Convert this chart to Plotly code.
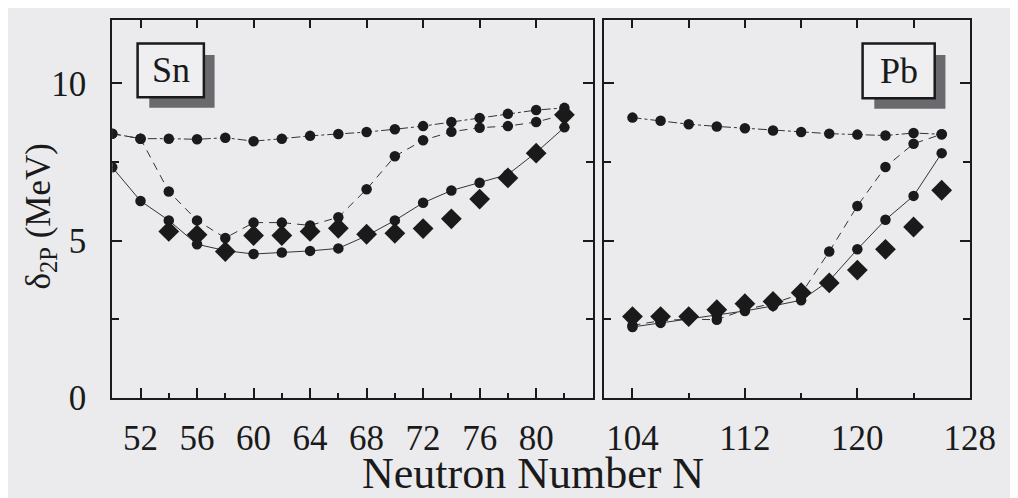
import plotly.graph_objects as go

# ---------------- data ----------------
N_sn = [50, 52, 54, 56, 58, 60, 62, 64, 66, 68, 70, 72, 74, 76, 78, 80, 82]
sn_top = [8.40, 8.24, 8.24, 8.22, 8.27, 8.16, 8.24, 8.33, 8.39, 8.45, 8.54, 8.64, 8.77, 8.90, 9.03, 9.15, 9.22]
sn_dash = [8.40, 8.24, 6.56, 5.64, 5.08, 5.57, 5.57, 5.48, 5.74, 6.63, 7.68, 8.19, 8.46, 8.59, 8.64, 8.77, 9.00]
sn_solid = [7.33, 6.26, 5.64, 4.88, 4.68, 4.57, 4.62, 4.67, 4.75, 5.15, 5.64, 6.20, 6.59, 6.84, 7.10, 7.80, 8.60]
N_sn_exp = [54, 56, 58, 60, 62, 64, 66, 68, 70, 72, 74, 76, 78, 80, 82]
sn_exp = [5.29, 5.18, 4.65, 5.16, 5.16, 5.29, 5.39, 5.20, 5.23, 5.38, 5.69, 6.32, 6.99, 7.78, 9.00]

N_pb = [104, 106, 108, 110, 112, 114, 116, 118, 120, 122, 124, 126]
pb_top = [8.91, 8.81, 8.70, 8.63, 8.57, 8.50, 8.45, 8.40, 8.37, 8.34, 8.42, 8.38]
pb_dash = [2.30, 2.45, 2.50, 2.48, 2.80, 3.00, 3.30, 4.65, 6.10, 7.34, 8.08, 8.38]
pb_solid = [2.25, 2.38, 2.50, 2.62, 2.76, 2.92, 3.10, 3.72, 4.72, 5.66, 6.42, 7.78]
pb_exp = [2.58, 2.58, 2.58, 2.80, 2.99, 3.06, 3.34, 3.65, 4.06, 4.72, 5.43, 6.60]

sn_ticks = [52, 56, 60, 64, 68, 72, 76, 80]
pb_ticks = [104, 112, 120, 128]
pb_top_ticks = [104, 108, 112, 116, 120, 124]
y_ticks = [0, 5, 10]

# ---------------- style ----------------
BG = "#ebebee"
INK = "#1a1a1a"
LINE = "#3a3030"
FONT = "Liberation Serif, DejaVu Serif, Times New Roman, serif"
W, H = 1018, 498

fig = go.Figure()


def add_theory(x, y, dash, xa, ya):
    fig.add_trace(go.Scatter(
        x=x, y=y, mode="lines+markers", xaxis=xa, yaxis=ya,
        line=dict(color=LINE, width=1, dash=dash),
        marker=dict(symbol="circle", size=10.5, color=INK),
        showlegend=False, hoverinfo="skip"))


def add_exp(x, y, xa, ya):
    fig.add_trace(go.Scatter(
        x=x, y=y, mode="markers", xaxis=xa, yaxis=ya,
        marker=dict(symbol="diamond", size=16, color=INK, line=dict(width=0)),
        showlegend=False, hoverinfo="skip"))


add_theory(N_sn, sn_top, "dashdot", "x", "y")
add_theory(N_sn, sn_dash, "8px,6px", "x", "y")
add_theory(N_sn, sn_solid, "solid", "x", "y")
add_exp(N_sn_exp, sn_exp, "x", "y")

add_theory(N_pb, pb_top, "dashdot", "x2", "y2")
add_theory(N_pb, pb_dash, "8px,6px", "x2", "y2")
add_theory(N_pb, pb_solid, "solid", "x2", "y2")
add_exp(N_pb, pb_exp, "x2", "y2")

# invisible traces to ensure the top tick axes are drawn
fig.add_trace(go.Scatter(x=[None], y=[None], xaxis="x3", yaxis="y", showlegend=False, hoverinfo="skip"))
fig.add_trace(go.Scatter(x=[None], y=[None], xaxis="x4", yaxis="y2", showlegend=False, hoverinfo="skip"))


def px_x(p):
    return p / W


def px_y(p):
    return 1 - p / H

dom1 = [px_x(107), px_x(600)]
dom2 = [px_x(612), px_x(987)]
ydom = [px_y(406), px_y(13)]

tickfont = dict(family=FONT, size=35, color=INK)

xbase = dict(showgrid=False, zeroline=False, showline=True, linecolor=INK, linewidth=2,
             ticks="inside", ticklen=10, tickwidth=1.5, tickcolor=INK, tickfont=tickfont,
             ticklabelstandoff=8)

fig.update_layout(
    width=W, height=H, autosize=False,
    margin=dict(l=0, r=0, t=0, b=0),
    paper_bgcolor=BG, plot_bgcolor=BG,
    font=dict(family=FONT, color=INK),
    xaxis=dict(**xbase, domain=dom1, range=[50, 84], anchor="y",
               tickmode="array", tickvals=sn_ticks, ticktext=[str(v) for v in sn_ticks],
               minor=dict(tickmode="array", tickvals=[50, 54, 58, 62, 66, 70, 74, 78, 82],
                          ticks="inside", ticklen=5, tickwidth=1.5, tickcolor=INK),
               mirror=True),
    xaxis2=dict(**xbase, domain=dom2, range=[102, 128], anchor="y2",
                tickmode="array", tickvals=pb_ticks, ticktext=[str(v) for v in pb_ticks],
                minor=dict(tickmode="array", tickvals=[108, 116, 124],
                           ticks="inside", ticklen=5, tickwidth=1.5, tickcolor=INK),
                mirror=True),
    xaxis3=dict(overlaying="x", anchor="y", side="top", range=[50, 84], domain=dom1,
                showgrid=False, zeroline=False, showline=False, showticklabels=False,
                ticks="inside", ticklen=8, tickwidth=1.5, tickcolor=INK,
                tickmode="array", tickvals=sn_ticks),
    xaxis4=dict(overlaying="x2", anchor="y2", side="top", range=[102, 128], domain=dom2,
                showgrid=False, zeroline=False, showline=False, showticklabels=False,
                ticks="inside", ticklen=8, tickwidth=1.5, tickcolor=INK,
                tickmode="array", tickvals=pb_top_ticks),
    yaxis=dict(domain=ydom, range=[0, 12], anchor="x", showgrid=False, zeroline=False,
               showline=True, linecolor=INK, linewidth=2, mirror="ticks",
               ticks="inside", ticklen=10, tickwidth=1.5, tickcolor=INK,
               tickmode="array", tickvals=y_ticks, ticktext=[str(v) for v in y_ticks],
               tickfont=tickfont, ticklabelstandoff=17,
               minor=dict(tickmode="array", tickvals=[2.5, 7.5], ticks="inside",
                          ticklen=7, tickwidth=1.5, tickcolor=INK)),
    yaxis2=dict(domain=ydom, range=[0, 12], anchor="x2", showgrid=False, zeroline=False,
                showline=True, linecolor=INK, linewidth=2, mirror="ticks",
                ticks="inside", ticklen=10, tickwidth=1.5, tickcolor=INK,
                tickmode="array", tickvals=y_ticks, showticklabels=False,
                minor=dict(tickmode="array", tickvals=[2.5, 7.5], ticks="inside",
                           ticklen=7, tickwidth=1.5, tickcolor=INK)),
)


def label_box(x0, y0, x1, y1, text):
    fig.add_shape(type="rect", xref="paper", yref="paper",
                  x0=px_x(x0 + 12), x1=px_x(x1 + 11), y0=px_y(y1 + 11), y1=px_y(y0 + 12),
                  fillcolor="#6a6a6e", line=dict(width=0), layer="above")
    fig.add_shape(type="rect", xref="paper", yref="paper",
                  x0=px_x(x0), x1=px_x(x1), y0=px_y(y1), y1=px_y(y0),
                  fillcolor="#efeff1", line=dict(color=INK, width=2.5), layer="above")
    fig.add_annotation(xref="paper", yref="paper", x=px_x((x0 + x1) / 2), y=px_y((y0 + y1) / 2),
                       text=text, showarrow=False, xanchor="center", yanchor="middle",
                       font=dict(family=FONT, size=36, color=INK))

label_box(133, 37, 201, 93, "Sn")
label_box(877, 37, 951, 94, "Pb")

fig.add_annotation(xref="paper", yref="paper", x=px_x(539), y=px_y(485),
                   text="Neutron Number N", showarrow=False, xanchor="center", yanchor="middle",
                   font=dict(family=FONT, size=44, color=INK))
fig.add_annotation(xref="paper", yref="paper", x=px_x(33), y=px_y(217),
                   text="δ<sub>2P</sub> (MeV)", showarrow=False, textangle=-90,
                   xanchor="center", yanchor="middle",
                   font=dict(family=FONT, size=35, color=INK))

fig.write_html("out.html")
